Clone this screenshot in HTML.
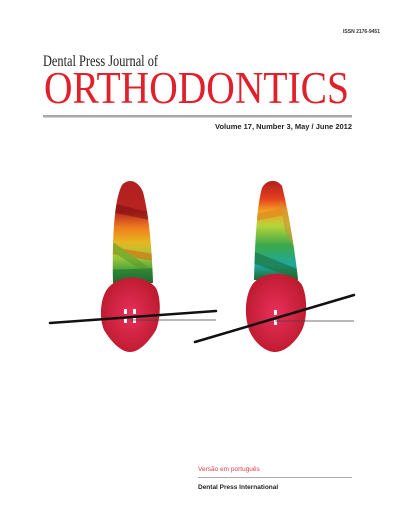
<!DOCTYPE html>
<html><head><meta charset="utf-8"><style>
html,body{margin:0;padding:0;background:#fff;width:400px;height:516px;overflow:hidden}
svg{display:block}
</style></head><body>
<svg width="400" height="516" viewBox="0 0 400 516">
<defs>
<linearGradient id="rootL" x1="0" y1="0" x2="0" y2="1">
<stop offset="0" stop-color="#b0201f"/><stop offset="0.3" stop-color="#b82420"/><stop offset="0.45" stop-color="#ee7a1e"/><stop offset="0.6" stop-color="#e8b520"/><stop offset="0.75" stop-color="#9cc83a"/><stop offset="0.9" stop-color="#3c9a3c"/><stop offset="1" stop-color="#1e6a2e"/>
</linearGradient>
<linearGradient id="rootR" x1="0" y1="0" x2="0" y2="1">
<stop offset="0" stop-color="#b0201f"/><stop offset="0.18" stop-color="#e4401e"/><stop offset="0.3" stop-color="#f0a020"/><stop offset="0.45" stop-color="#b8d43a"/><stop offset="0.65" stop-color="#3ca84a"/><stop offset="0.85" stop-color="#1ea8a0"/><stop offset="1" stop-color="#1e6a2e"/>
</linearGradient>
<radialGradient id="crown" cx="0.5" cy="0.5" r="0.6">
<stop offset="0" stop-color="#e8305a"/><stop offset="1" stop-color="#b8182a"/>
</radialGradient>
<clipPath id="clipL"><path d="M113 283 C112 240 114 200 122 185 C128 178 138 180 143 192 C149 215 152 250 153 283 Z"/></clipPath>
<clipPath id="clipR"><path d="M254 280 C255 240 257 205 262 188 C266 180 276 178 282 186 C288 210 295 250 298 280 Z"/></clipPath>
</defs>
<text x="380" y="33" text-anchor="end" font-family="Liberation Sans, sans-serif" font-size="5" font-weight="bold" fill="#333">ISSN 2176-9451</text>
<text x="43" y="66" font-family="Liberation Serif, serif" font-size="16" fill="#222" textLength="115" lengthAdjust="spacingAndGlyphs">Dental Press Journal of</text>
<text x="44" y="103" font-family="Liberation Serif, serif" font-size="45" fill="#e0202a" textLength="305" lengthAdjust="spacingAndGlyphs">ORTHODONTICS</text>
<rect x="43" y="115" width="309" height="2.5" fill="#a8a8a8"/>
<text x="352" y="129" text-anchor="end" font-family="Liberation Sans, sans-serif" font-size="7.5" font-weight="bold" fill="#222">Volume 17, Number 3, May / June 2012</text>

<g>
<path d="M113 283 C112 240 114 200 122 185 C128 178 138 180 143 192 C149 215 152 250 153 283 Z" fill="url(#rootL)"/>
<g clip-path="url(#clipL)" opacity="0.55">
<polygon points="100,200 160,215 160,222 100,210" fill="#7a1010"/>
<polygon points="100,245 160,255 160,262 100,252" fill="#e06010"/>
<polygon points="110,240 160,275 160,282 110,250" fill="#5a9a2a"/>
<polygon points="100,270 160,268 160,283 100,283" fill="#1e6a2e"/>
</g>
<path d="M108 288 C120 274 145 274 156 288 C162 300 160 320 156 330 C150 340 140 352 130 352 C120 352 110 340 104 330 C99 318 100 298 108 288 Z" fill="url(#crown)"/>
<rect x="124" y="309" width="3" height="5" fill="#fff"/><rect x="133" y="309" width="3" height="5" fill="#fff"/>
<rect x="124" y="318" width="3" height="5" fill="#fff"/><rect x="133" y="318" width="3" height="5" fill="#fff"/>
<line x1="130" y1="320" x2="216" y2="320" stroke="#444" stroke-width="0.8"/>
<line x1="50" y1="323" x2="216" y2="311" stroke="#111" stroke-width="2.5" stroke-linecap="round"/>
</g>
<g>
<path d="M254 280 C255 240 257 205 262 188 C266 180 276 178 282 186 C288 210 295 250 298 280 Z" fill="url(#rootR)"/>
<g clip-path="url(#clipR)" opacity="0.55">
<polygon points="250,250 300,270 300,280 250,262" fill="#1e6a2e"/>
<polygon points="250,215 300,205 300,212 250,222" fill="#e08020"/>
<polygon points="280,200 300,230 300,260 285,230" fill="#d09030"/>
</g>
<path d="M252 285 C262 270 292 270 302 285 C308 298 307 320 302 330 C296 342 285 352 275 352 C265 352 254 342 249 330 C244 315 245 296 252 285 Z" fill="url(#crown)"/>
<rect x="274" y="310" width="3" height="5" fill="#fff"/><rect x="274" y="320" width="3" height="5" fill="#fff"/>
<line x1="275" y1="321" x2="354" y2="321" stroke="#444" stroke-width="0.8"/>
<line x1="195" y1="342" x2="354" y2="295" stroke="#111" stroke-width="2.5" stroke-linecap="round"/>
</g>

<text x="198" y="471" font-family="Liberation Sans, sans-serif" font-size="6.5" fill="#e0404a">Versão em português</text>
<rect x="198" y="477" width="154" height="0.8" fill="#999"/>
<text x="198" y="489" font-family="Liberation Sans, sans-serif" font-size="6.5" font-weight="bold" fill="#222">Dental Press International</text>
</svg>
</body></html>
